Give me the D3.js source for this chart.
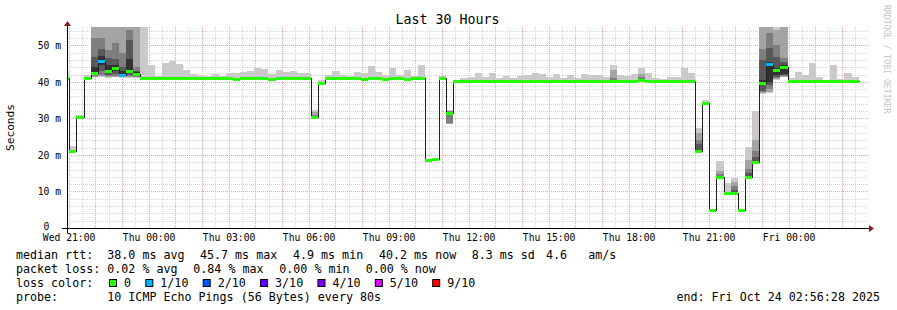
<!DOCTYPE html>
<html>
<head>
<meta charset="utf-8">
<script src="https://cdn.jsdelivr.net/npm/d3@7/dist/d3.min.js"></script>
<style>
body { margin:0; background:#fff; }
text { font-family:"DejaVu Sans Mono", monospace; fill:#000; }
</style>
</head>
<body>
<div id="chart"></div>
<script>
// ---- data (values in ms, one entry per 960 s step) ----
const startTime = new Date(2025, 9, 22, 20, 56, 28);
const endTime = new Date(2025, 9, 24, 2, 56, 28);
const firstStep = new Date(2025, 9, 22, 20, 45, 43);
const stepSeconds = 960;

const median = [
  41.0, 21.2, 30.5, 41.0, 42.5, 45.7, 43.0, 43.9, 41.9, 43.0, 42.2,
  41.0, 41.0, 41.1, 41.0, 41.0, 41.0, 41.0, 41.1, 41.0, 41.0, 41.0, 41.0,
  41.0, 40.9, 41.0, 41.0, 41.0, 41.0, 40.9, 41.0, 41.0, 41.0, 41.0, 41.0,
  30.4, 39.6,
  41.0, 41.0, 41.0, 41.0, 41.0, 40.9, 41.0, 41.0, 40.9, 41.0, 41.0, 40.9, 41.0, 41.0,
  18.5, 18.8, 41.0, 31.6, 40.1,
  40.2, 40.2, 40.1, 40.2, 40.2, 40.1, 40.2, 40.2, 40.2, 40.1, 40.2,
  40.2, 40.1, 40.2, 40.2, 40.1, 40.2, 40.2, 40.2, 40.2, 40.3, 40.2,
  40.1, 40.2, 40.2, 40.5, 40.2, 40.2, 40.2, 40.1, 40.2, 40.3, 40.2,
  21.0, 34.3, 4.9, 14.0, 9.5, 9.5, 4.9, 14.0, 18.1, 39.8, 44.8, 43.3, 44.1,
  40.2, 40.2, 40.2, 40.2, 40.2, 40.2, 40.2, 40.2, 40.2, 40.2
];

// lost pings out of 10 for each step
const lossTenths = [
  0, 0, 0, 0, 0, 1, 0, 0, 1, 0, 0,
  0, 0, 0, 0, 0, 0, 0, 0, 0, 0, 0, 0,
  0, 0, 0, 0, 0, 0, 0, 0, 0, 0, 0, 0,
  0, 0,
  0, 0, 0, 0, 0, 0, 0, 0, 0, 0, 0, 0, 0, 0,
  0, 0, 0, 0, 0,
  0, 0, 0, 0, 0, 0, 0, 0, 0, 0, 0,
  0, 0, 0, 0, 0, 0, 0, 0, 0, 0, 0,
  0, 0, 0, 0, 0, 0, 0, 0, 0, 0, 0,
  0, 0, 0, 0, 0, 0, 0, 0, 0, 0, 1, 0, 0,
  0, 0, 0, 0, 0, 0, 0, 0, 0, 0
];

// fastest and slowest ping of each step
const smokeLo = [
  40.8, 21.0, 30.3, 40.8, 41.2, 41.3, 41.1, 41.2, 41.0, 41.1, 41.0,
  40.8, 40.8, 40.9, 40.8, 40.8, 40.8, 40.8, 40.9, 40.8, 40.8, 40.8, 40.8,
  40.8, 40.7, 40.8, 40.8, 40.8, 40.8, 40.7, 40.8, 40.8, 40.6, 40.8, 40.8,
  30.2, 39.4,
  40.8, 40.8, 40.8, 40.8, 40.8, 40.7, 40.8, 40.8, 40.7, 40.8, 40.8, 40.7, 40.8, 40.8,
  18.3, 18.5, 40.8, 28.5, 39.9,
  40.0, 40.0, 39.9, 40.0, 40.0, 39.9, 40.0, 40.0, 40.0, 39.9, 40.0,
  40.0, 39.9, 40.0, 40.0, 39.9, 40.0, 40.0, 40.0, 40.0, 40.0, 40.0,
  39.9, 40.0, 40.0, 40.0, 40.0, 40.0, 40.0, 39.9, 40.0, 40.0, 40.0,
  20.9, 34.1, 4.8, 13.9, 9.4, 9.4, 4.8, 13.9, 18.0, 36.8, 36.9, 40.5, 41.3,
  40.0, 40.0, 40.0, 40.0, 40.0, 40.0, 40.0, 40.0, 40.0, 40.0
];
const smokeHi = [
  42.7, 22.4, 31.0, 41.9, 56, 56, 56, 56, 56, 56, 56,
  56, 44.7, 41.6, 45.2, 45.8, 44.9, 43.3, 42.1, 42.0, 41.6, 42.1, 41.5,
  42.3, 42.3, 42.6, 43.0, 43.8, 43.6, 42.2, 43.1, 42.7, 42.9, 42.4, 42.4,
  32.2, 40.4,
  42.0, 43.0, 42.0, 41.6, 42.7, 42.3, 44.4, 42.7, 42.0, 43.9, 42.0, 43.2, 41.7, 44.6,
  19.0, 19.2, 41.7, 32.2, 40.6,
  41.0, 41.3, 42.4, 41.3, 42.4, 41.0, 41.6, 41.1, 41.6, 41.8, 42.4,
  42.2, 41.3, 42.2, 41.1, 41.9, 41.1, 42.2, 41.9, 41.9, 41.4, 44.5,
  41.9, 41.6, 42.2, 43.8, 42.4, 41.0, 40.8, 41.3, 41.3, 43.8, 42.5,
  27.4, 35.0, 5.2, 18.3, 12.2, 13.8, 5.2, 22.1, 32.0, 56, 56, 56, 56,
  41.0, 42.7, 41.8, 45.2, 41.3, 40.5, 44.7, 40.9, 42.4, 41.3
];

// steps where the inner pings (2nd..9th fastest) spread out
const innerSteps = [4, 5, 6, 7, 8, 9, 10, 35, 54, 77, 81, 89, 92, 94, 96, 97, 98, 99, 100, 101];
const innerPings = [
  [41.4, 41.6, 41.9, 42.3, 44.1, 46.9, 51.9, 56],
  [41.6, 42.0, 43.0, 44.5, 47.0, 48.9, 52.0, 56],
  [41.3, 41.6, 42.0, 42.5, 44.5, 46.5, 48.7, 56],
  [41.4, 41.7, 42.2, 43.0, 44.5, 46.2, 50.5, 56],
  [41.2, 41.3, 41.5, 41.7, 43.0, 44.1, 47.8, 56],
  [41.3, 41.6, 42.0, 42.6, 46.2, 51.4, 54.2, 56],
  [41.2, 41.4, 41.6, 41.9, 42.6, 43.0, 44.1, 56],
  [30.3, 30.3, 30.4, 30.4, 30.5, 30.6, 31.0, 31.8],
  [28.5, 28.6, 31.5, 31.6, 31.7, 31.8, 31.9, 32.0],
  [40.1, 40.1, 40.2, 40.2, 40.3, 40.5, 41.0, 43.1],
  [40.1, 40.2, 40.4, 40.5, 40.6, 40.8, 41.2, 42.2],
  [21.0, 21.0, 21.0, 21.0, 21.1, 23.0, 24.0, 26.0],
  [14.0, 14.0, 14.0, 14.0, 14.1, 14.3, 14.9, 15.6],
  [9.5, 9.5, 9.5, 9.5, 9.6, 10.3, 11.5, 12.6],
  [14.0, 14.0, 14.0, 14.0, 14.2, 15.0, 16.2, 18.5],
  [18.1, 18.1, 18.1, 18.1, 18.3, 19.5, 21.2, 24.0],
  [37.0, 37.2, 37.5, 39.3, 40.5, 46.0, 48.9, 56],
  [37.3, 38.0, 39.0, 40.0, 45.5, 49.2, 53.3, 56],
  [40.7, 41.0, 41.4, 42.0, 43.8, 46.9, 50.0, 54.3],
  [41.4, 41.6, 41.8, 42.1, 44.7, 45.5, 46.4, 55.0]
];

const yTicks = [0, 10, 20, 30, 40, 50];
const lossLabels = ["0", "1/10", "2/10", "3/10", "4/10", "5/10", "9/10"];
const lossColors = ["#26ff00", "#00b8ff", "#0059ff", "#5e00ff", "#7e00ff", "#dd00ff", "#ff0000"];
const rttStats = ["38.0 ms avg", "45.7 ms max", "4.9 ms min", "40.2 ms now", "8.3 ms sd", "4.6", "am/s"];
const lossStats = ["0.02 % avg", "0.84 % max", "0.00 % min", "0.00 % now"];
const probeText = "10 ICMP Echo Pings (56 Bytes) every 80s";
const smokeShades = ["#cacaca", "#a4a4a4", "#7e7e7e", "#585858", "#323232"];

// ---- chart ----
SmokeChart = function(_parentElement){
    this.parentElement = _parentElement;
    this.initVis();
};

SmokeChart.prototype.initVis = function(){
    let vis = this;

    vis.margin = { left:67, right:30, top:27, bottom:82 };
    vis.width = 800;
    vis.height = 201;

    vis.svg = d3.select(vis.parentElement).append("svg")
        .attr("width", 897)
        .attr("height", 310)
        .style("display", "block");

    vis.svg.append("defs").append("clipPath").attr("id", "plot-clip")
        .append("rect")
        .attr("width", vis.width)
        .attr("height", vis.height);

    vis.g = vis.svg.append("g")
        .attr("transform", "translate(" + vis.margin.left + "," + vis.margin.top + ")");

    vis.x = d3.scaleTime().domain([startTime, endTime]).range([0, vis.width]);
    vis.y = d3.scaleLinear().domain([0, 55]).range([vis.height, 0]);

    vis.wrangleData();
};

SmokeChart.prototype.wrangleData = function(){
    let vis = this;
    let innerByStep = new Map(innerSteps.map((s, i) => [s, innerPings[i]]));

    vis.steps = median.map(function(m, i){
        let t0 = new Date(+firstStep + i * stepSeconds * 1000);
        let t1 = new Date(+t0 + stepSeconds * 1000);
        let inner = innerByStep.get(i);
        let pings = inner ? [smokeLo[i]].concat(inner, [smokeHi[i]]) : null;
        return { t0:t0, t1:t1, median:m, loss:lossTenths[i], lo:smokeLo[i], hi:smokeHi[i], pings:pings };
    });

    vis.updateVis();
};

SmokeChart.prototype.updateVis = function(){
    let vis = this;
    let x = vis.x, y = vis.y;

    //----Grid-------------------------
    let grid = vis.g.append("g").attr("shape-rendering", "crispEdges");
    let minorY = d3.range(2, 55, 2).filter(v => v % 10 !== 0);
    let majorY = yTicks.filter(v => v > 0);
    let halfHours = d3.timeMinute.every(30).range(startTime, endTime);
    let minorX = halfHours.filter(d => d.getMinutes() !== 0);
    let majorX = halfHours.filter(d => d.getMinutes() === 0);

    grid.selectAll(".minor-y").data(minorY).enter().append("line")
        .attr("x1", 0).attr("x2", vis.width + 1)
        .attr("y1", d => Math.round(y(d)) + 0.5).attr("y2", d => Math.round(y(d)) + 0.5)
        .attr("stroke", "#d4d4d4").attr("stroke-dasharray", "1,1");
    grid.selectAll(".minor-x").data(minorX).enter().append("line")
        .attr("x1", d => Math.round(x(d)) + 0.5).attr("x2", d => Math.round(x(d)) + 0.5)
        .attr("y1", 0).attr("y2", vis.height)
        .attr("stroke", "#d4d4d4").attr("stroke-dasharray", "1,1");
    grid.selectAll(".major-y").data(majorY).enter().append("line")
        .attr("x1", 0).attr("x2", vis.width + 1)
        .attr("y1", d => Math.round(y(d)) + 0.5).attr("y2", d => Math.round(y(d)) + 0.5)
        .attr("stroke", "#f2a0a0").attr("stroke-dasharray", "1,1");
    grid.selectAll(".major-x").data(majorX).enter().append("line")
        .attr("x1", d => Math.round(x(d)) + 0.5).attr("x2", d => Math.round(x(d)) + 0.5)
        .attr("y1", 0).attr("y2", vis.height)
        .attr("stroke", "#f2a0a0").attr("stroke-dasharray", "1,1");

    //----Smoke------------------------
    let plot = vis.g.append("g").attr("clip-path", "url(#plot-clip)");
    let smoke = plot.append("g").attr("shape-rendering", "crispEdges");

    smoke.selectAll(".outer").data(vis.steps).enter().append("rect")
        .attr("x", d => x(d.t0)).attr("width", d => x(d.t1) - x(d.t0))
        .attr("y", d => y(d.hi)).attr("height", d => y(d.lo) - y(d.hi))
        .attr("fill", smokeShades[0]);

    let innerBands = [];
    vis.steps.forEach(function(d){
        if (!d.pings) return;
        for (let b = 1; b < 5; b++) {
            innerBands.push({ t0:d.t0, t1:d.t1, lo:d.pings[b], hi:d.pings[9 - b], shade:smokeShades[b] });
        }
    });
    smoke.selectAll(".inner").data(innerBands).enter().append("rect")
        .attr("x", d => x(d.t0)).attr("width", d => x(d.t1) - x(d.t0))
        .attr("y", d => y(d.hi)).attr("height", d => y(d.lo) - y(d.hi))
        .attr("fill", d => d.shade);

    //----Median line------------------
    let lineData = vis.steps.map(d => [d.t0, d.median]);
    let last = vis.steps[vis.steps.length - 1];
    lineData.push([last.t1, last.median]);

    let line = d3.line()
        .x(d => Math.round(x(d[0])) + 0.5)
        .y(d => Math.round(y(d[1])) + 0.5)
        .curve(d3.curveStepAfter);

    plot.append("path")
        .attr("d", line(lineData))
        .attr("fill", "none")
        .attr("stroke", "#202020")
        .attr("stroke-width", 1)
        .attr("shape-rendering", "crispEdges");

    //----Loss coloured median---------
    plot.append("g").attr("shape-rendering", "crispEdges")
        .selectAll("rect").data(vis.steps).enter().append("rect")
        .attr("x", d => Math.round(x(d.t0)))
        .attr("width", d => Math.round(x(d.t1)) - Math.round(x(d.t0)))
        .attr("y", d => Math.round(y(d.median)) - 1)
        .attr("height", 3)
        .attr("fill", d => lossColors[lossLabels.indexOf(d.loss === 0 ? "0" : d.loss + "/10")]);

    //----Axes-------------------------
    let yAxisCall = d3.axisLeft(y)
        .tickValues(yTicks)
        .tickSize(0)
        .tickPadding(6)
        .tickFormat(d => d === 0 ? "0\u00a0\u00a0" : d + " m");
    let yAxis = vis.g.append("g").call(yAxisCall);
    yAxis.select(".domain").remove();
    yAxis.selectAll("text").attr("font-size", "9.7px").attr("font-family", null).attr("dy", "0.36em");
    yAxis.selectAll(".tick").filter(d => d === 0).select("text").attr("dy", "0.2em");

    let xAxisCall = d3.axisBottom(x)
        .tickValues(d3.timeHour.every(3).range(startTime, endTime))
        .tickSize(0)
        .tickPadding(6)
        .tickFormat(d3.timeFormat("%a %H:%M"));
    let xAxis = vis.g.append("g")
        .attr("transform", "translate(0," + vis.height + ")")
        .call(xAxisCall);
    xAxis.select(".domain").remove();
    xAxis.selectAll("text").attr("font-size", "9.7px").attr("font-family", null).attr("dy", "0.71em");

    // axis lines with arrows
    vis.g.append("line")
        .attr("x1", -5).attr("x2", vis.width + 2)
        .attr("y1", vis.height + 0.5).attr("y2", vis.height + 0.5)
        .attr("stroke", "#000").attr("shape-rendering", "crispEdges");
    vis.g.append("line")
        .attr("x1", 0.5).attr("x2", 0.5)
        .attr("y1", vis.height + 5).attr("y2", -3)
        .attr("stroke", "#000").attr("shape-rendering", "crispEdges");
    vis.g.append("path")
        .attr("d", "M" + (vis.width + 2) + "," + (vis.height - 3) + "L" + (vis.width + 7) + "," + (vis.height + 0.5) + "L" + (vis.width + 2) + "," + (vis.height + 4) + "Z")
        .attr("fill", "#8b1a1a");
    vis.g.append("path")
        .attr("d", "M-3,-1L0.5,-6L4,-1Z")
        .attr("fill", "#8b1a1a");

    //----Titles-----------------------
    vis.svg.append("text")
        .attr("x", 447.5).attr("y", 23.5)
        .attr("text-anchor", "middle")
        .attr("font-size", "13.3px")
        .text("Last 30 Hours");

    vis.svg.append("text")
        .attr("transform", "translate(14," + (vis.margin.top + vis.height / 2) + ") rotate(-90)")
        .attr("text-anchor", "middle")
        .attr("font-size", "11.2px")
        .text("Seconds");

    vis.svg.append("text")
        .attr("transform", "translate(884,5) rotate(90)")
        .attr("font-size", "8.2px")
        .style("fill", "#c4c4c4")
        .text("RRDTOOL / TOBI OETIKER");

    //----Legend-----------------------
    let legend = vis.svg.append("g").attr("font-size", "11.67px");
    let rowY = [258.8, 272.9, 287.0, 301.1];
    let valueX = 107.3;

    legend.append("text").attr("x", 16).attr("y", rowY[0]).text("median rtt:");
    let rttX = [valueX, 200, 293, 379, 471.7, 546, 588.3];
    rttStats.forEach(function(s, i){
        legend.append("text").attr("x", rttX[i]).attr("y", rowY[0]).text(s);
    });

    legend.append("text").attr("x", 16).attr("y", rowY[1]).text("packet loss:");
    let lossX = [valueX, 193.3, 279.3, 365.7];
    lossStats.forEach(function(s, i){
        legend.append("text").attr("x", lossX[i]).attr("y", rowY[1]).text(s);
    });

    legend.append("text").attr("x", 16).attr("y", rowY[2]).text("loss color:");
    let cx = 109.5;
    lossLabels.forEach(function(lab, i){
        legend.append("rect")
            .attr("x", cx).attr("y", rowY[2] - 7.5)
            .attr("width", 7).attr("height", 7)
            .attr("fill", lossColors[i])
            .attr("stroke", "#000").attr("stroke-width", 1);
        let t = legend.append("text").attr("x", cx + 14.5).attr("y", rowY[2]).text(lab);
        cx = cx + 14.5 + t.node().getComputedTextLength() + 14.8;
    });

    legend.append("text").attr("x", 16).attr("y", rowY[3]).text("probe:");
    legend.append("text").attr("x", valueX).attr("y", rowY[3]).text(probeText);
    legend.append("text").attr("x", 880).attr("y", rowY[3])
        .attr("text-anchor", "end")
        .text("end: " + d3.timeFormat("%a %b %d %H:%M:%S %Y")(endTime));
};

new SmokeChart("#chart");
</script>
</body>
</html>
